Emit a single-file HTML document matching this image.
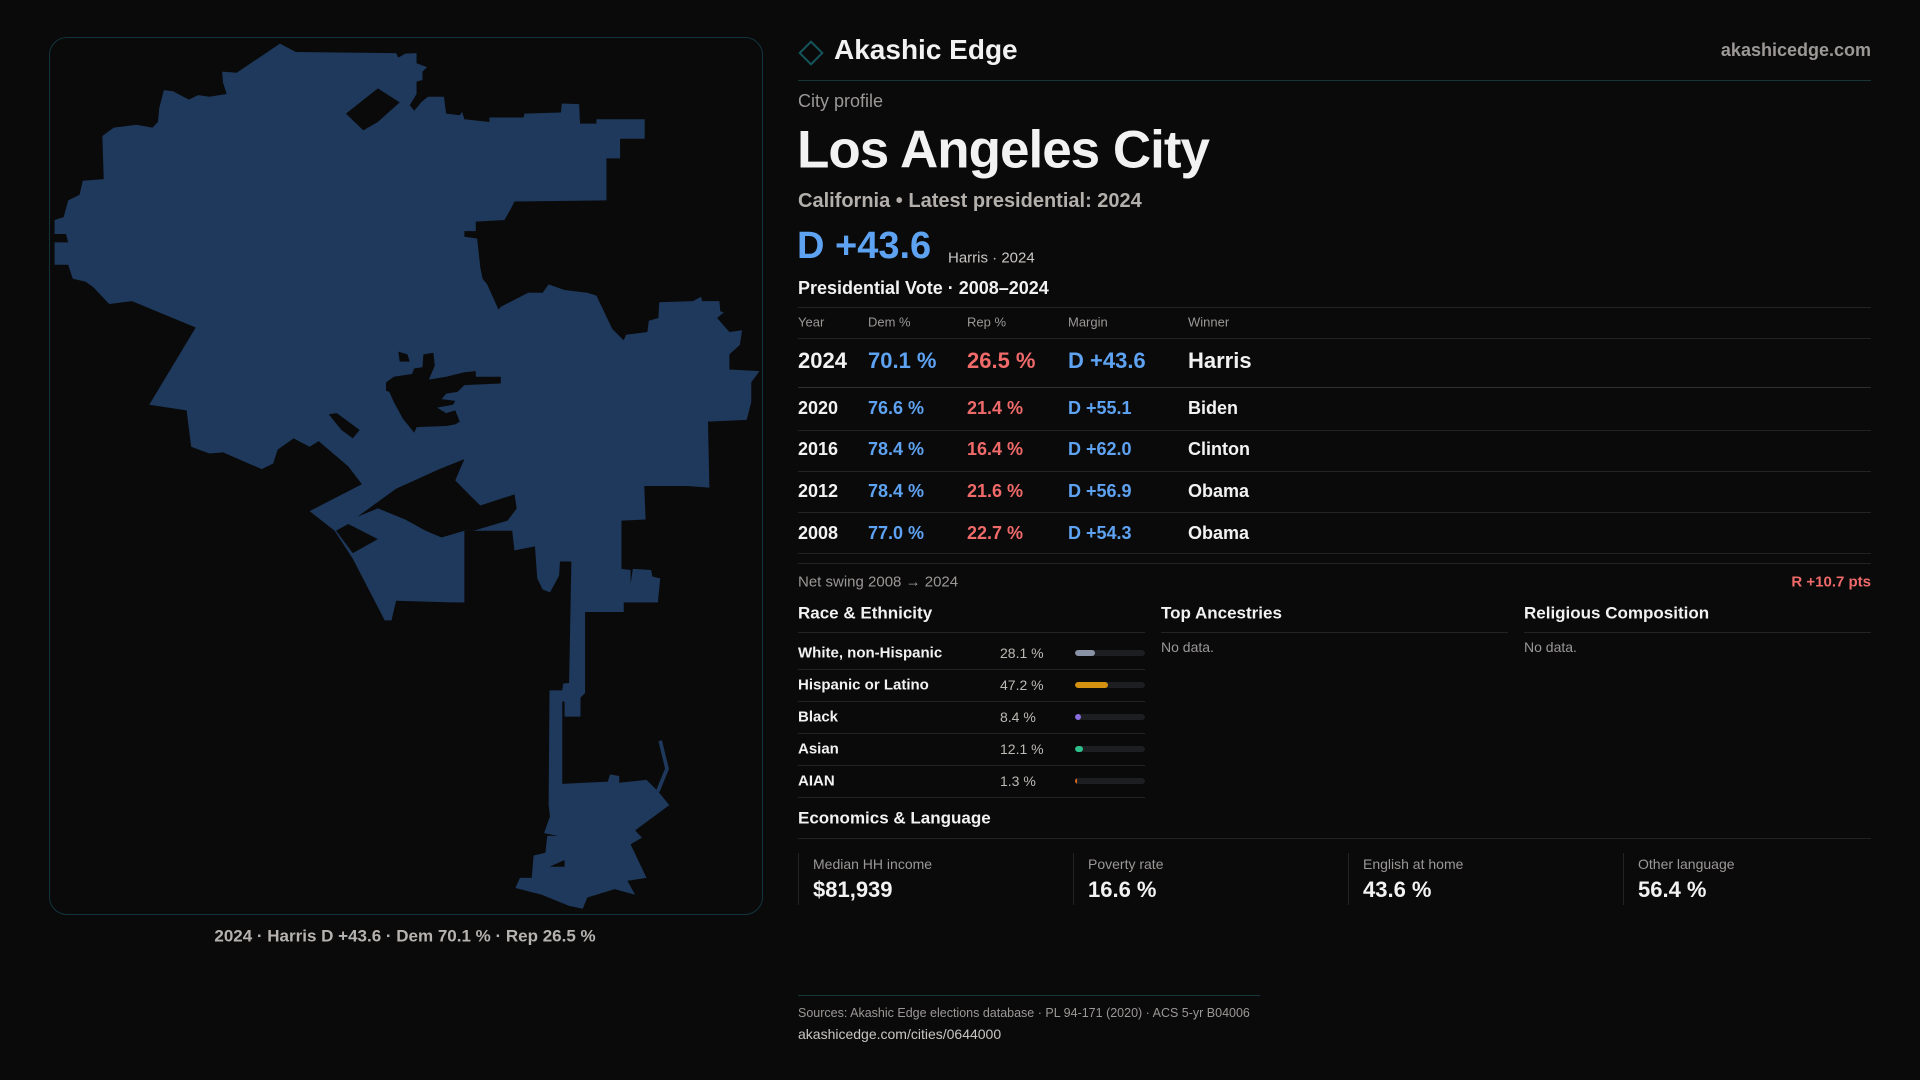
<!DOCTYPE html>
<html><head><meta charset="utf-8">
<style>
*{margin:0;padding:0;box-sizing:border-box}
body{width:1920px;height:1080px;background:#0a0a0b;font-family:"Liberation Sans",sans-serif;color:#f2f2f2;position:relative;overflow:hidden}
.a{position:absolute;white-space:nowrap}
.c{line-height:1;transform:translateY(-50%)}
.hl{position:absolute;height:1px;background:#222326}
.gray{color:#9b9896}
.blue{color:#5ea2f2}
.red{color:#f06a6a}
</style></head><body>
<div class="a" style="left:49px;top:37px;width:714px;height:878px;border:1px solid #12353b;border-radius:18px;overflow:hidden">
<svg width="714" height="878" viewBox="0 0 1568 1568" preserveAspectRatio="none">
<polygon fill="#1e395c" points="505,10 540,25 760,27 765,35 780,28 805,27 805,45 828,52 818,60 818,75 805,78 805,100 790,120 800,130 815,115 830,105 865,105 870,135 900,138 905,132 910,145 965,150 965,142 1040,142 1042,135 1122,133 1124,117 1162,118 1164,153 1200,153 1200,145 1306,145 1306,180 1252,180 1252,215 1222,215 1222,290 1020,292 1012,305 998,325 935,328 935,345 910,345 910,355 938,358 945,410 950,430 960,440 985,485 990,480 1050,455 1082,455 1095,440 1130,450 1180,455 1200,460 1235,520 1260,540 1265,530 1312,525 1315,505 1336,500 1338,472 1412,470 1430,462 1432,470 1470,470 1472,488 1480,490 1465,500 1492,525 1520,522 1515,548 1492,565 1492,592 1558,595 1540,615 1540,650 1530,682 1445,685 1448,803 1400,800 1305,800 1308,860 1255,862 1255,948 1275,950 1275,975 1280,948 1320,950 1323,962 1340,965 1335,1008 1260,1008 1260,1025 1175,1025 1175,1170 1165,1178 1165,1212 1130,1212 1130,1185 1125,1185 1125,1332 1225,1328 1230,1315 1250,1318 1250,1330 1310,1325 1335,1345 1360,1370 1285,1415 1300,1428 1275,1440 1310,1500 1268,1505 1285,1530 1240,1520 1180,1535 1170,1555 1140,1550 1080,1530 1022,1518 1032,1500 1058,1500 1062,1460 1088,1455 1092,1425 1115,1425 1085,1420 1098,1390 1095,1370 1097,1165 1125,1165 1127,1153 1140,1152 1145,935 1120,935 1118,960 1108,975 1098,990 1082,985 1070,965 1065,908 1020,915 1015,880 960,880 910,880 910,1008 880,1008 760,1005 750,1040 735,1040 665,930 625,880 570,845 685,797 655,765 590,720 570,730 535,715 500,735 490,760 465,770 380,740 350,742 310,730 300,665 218,655 320,517 180,470 130,475 95,445 78,435 50,430 40,405 10,405 10,365 40,365 35,350 10,350 10,325 30,320 40,290 65,280 72,255 118,252 115,175 140,160 190,155 225,160 237,150 240,125 250,93 270,95 305,110 325,102 350,105 388,100 380,80 378,60 410,62"/>
<g fill="#0a0a0b">
<polygon points="650,135 720,90 768,115 720,150 688,165"/>
<polygon points="738,615 755,605 795,600 800,590 818,588 820,565 842,562 845,585 832,610 870,605 910,597 935,595 935,605 990,605 990,617 910,620 895,632 870,635 860,645 890,648 885,655 850,660 870,670 890,665 900,685 890,690 870,693 805,695 800,705 775,680 755,650 745,632 738,630"/>
<polygon points="765,560 785,565 790,578 768,578"/>
<polygon points="612,672 630,670 680,700 665,715 640,700"/>
<polygon points="675,855 760,805 855,770 910,752 890,790 920,815 945,835 1020,815 1025,840 1005,862 930,880 910,880 860,892 825,880 780,860 720,840"/>
<polygon points="628,880 655,868 720,895 665,920"/>
<polygon points="1097,1480 1130,1468 1130,1480"/>
</g>
<polyline fill="none" stroke="#1e395c" stroke-width="8" points="1340,1255 1355,1305 1335,1345"/>
</svg>
</div>
<div class="a c gray" style="left:405px;top:936px;transform:translate(-50%,-50%);font-size:17px;color:#b5b2af;font-weight:bold">2024 · Harris D +43.6 · Dem 70.1 % · Rep 26.5 %</div>

<div class="a" style="left:802px;top:44px;width:18px;height:18px;border:2px solid #14545a;transform:rotate(45deg)"></div>
<div class="a c" style="left:834px;top:50px;font-size:28px;font-weight:bold">Akashic Edge</div>
<div class="a c gray" style="right:49px;top:50px;font-size:18px;font-weight:bold">akashicedge.com</div>
<div class="hl" style="left:798px;width:1073px;top:80px;background:#17363a"></div>

<div class="a c gray" style="left:798px;top:101px;font-size:18px">City profile</div>
<div class="a c" style="left:797px;top:150px;font-size:53px;font-weight:bold;letter-spacing:-1px">Los Angeles City</div>
<div class="a c" style="left:798px;top:201px;font-size:20px;font-weight:bold;color:#b3afab">California • Latest presidential: 2024</div>
<div class="a c blue" style="left:797px;top:246px;font-size:38px;font-weight:bold">D +43.6</div>
<div class="a c" style="left:948px;top:258px;font-size:15px;color:#c9c6c3">Harris · 2024</div>
<div class="a c" style="left:798px;top:288px;font-size:18px;font-weight:bold">Presidential Vote · 2008–2024</div>

<div id="vote-table"></div>

<div class="hl" style="left:798px;width:1073px;top:563px"></div>
<div class="a c gray" style="left:798px;top:582px;font-size:15px">Net swing 2008 → 2024</div>
<div class="a c red" style="right:49px;top:582px;font-size:15px;font-weight:bold">R +10.7 pts</div>

<div class="a c" style="left:798px;top:613px;font-size:17px;font-weight:bold">Race &amp; Ethnicity</div>
<div class="a c" style="left:1161px;top:613px;font-size:17px;font-weight:bold">Top Ancestries</div>
<div class="a c" style="left:1524px;top:613px;font-size:17px;font-weight:bold">Religious Composition</div>
<div class="hl" style="left:798px;width:347px;top:632px"></div>
<div class="hl" style="left:1161px;width:347px;top:632px"></div>
<div class="hl" style="left:1524px;width:347px;top:632px"></div>
<div class="a c gray" style="left:1161px;top:647px;font-size:14px">No data.</div>
<div class="a c gray" style="left:1524px;top:647px;font-size:14px">No data.</div>
<div id="race-list"></div>

<div class="a c" style="left:798px;top:818px;font-size:17px;font-weight:bold">Economics &amp; Language</div>
<div class="hl" style="left:798px;width:1073px;top:838px"></div>
<div id="econ-cards"></div>

<div class="hl" style="left:798px;width:462px;top:995px;background:#17363a"></div>
<div class="a c gray" style="left:798px;top:1013px;font-size:12.5px">Sources: Akashic Edge elections database · PL 94-171 (2020) · ACS 5-yr B04006</div>
<div class="a c" style="left:798px;top:1034px;font-size:14px;color:#c9c6c3">akashicedge.com/cities/0644000</div>

<script>
const years=["2024","2020","2016","2012","2008"];
const demPct=[70.1,76.6,78.4,78.4,77.0];
const repPct=[26.5,21.4,16.4,21.6,22.7];
const margins=[43.6,55.1,62.0,56.9,54.3];
const winners=["Harris","Biden","Clinton","Obama","Obama"];
const raceLabels=["White, non-Hispanic","Hispanic or Latino","Black","Asian","AIAN"];
const raceValues=[28.1,47.2,8.4,12.1,1.3];
const raceColors=["#8a93a6","#d4910f","#8a6ee0","#2fbf8a","#d4691f"];
const econLabels=["Median HH income","Poverty rate","English at home","Other language"];
const econValues=["$81,939","16.6 %","43.6 %","56.4 %"];

function mk(parent,cls,style,text){const d=document.createElement('div');d.className=cls;d.style.cssText=style;if(text!=null)d.textContent=text;parent.appendChild(d);return d;}

const vt=document.getElementById('vote-table');
const colX=[798,868,967,1068,1188];
const hdr=["Year","Dem %","Rep %","Margin","Winner"];
mk(vt,'hl','left:798px;width:1073px;top:307px');
hdr.forEach((h,i)=>{const e=mk(vt,'a c gray',`left:${colX[i]}px;top:322px;font-size:13px`,h);

});
mk(vt,'hl','left:798px;width:1073px;top:338px');
const rowY=[361,408,449,491,533];
const lineY=[387,430,471,512,553];
years.forEach((y,i)=>{
 const fs=i===0?22:18;
 const vals=[y,demPct[i].toFixed(1)+' %',repPct[i].toFixed(1)+' %','D +'+margins[i].toFixed(1),winners[i]];
 const cls=['','blue','red','blue',''];
 vals.forEach((v,j)=>{const e=mk(vt,'a c '+cls[j],`left:${colX[j]}px;top:${rowY[i]}px;font-size:${fs}px;font-weight:bold`,v);
 
 });
 mk(vt,'hl',`left:798px;width:1073px;top:${lineY[i]}px;${i===0?'background:#2e2f32':''}`);
});

const rl=document.getElementById('race-list');
raceLabels.forEach((l,i)=>{
 const y=653+i*32;
 const a=mk(rl,'a c',`left:798px;top:${y}px;font-size:15px;font-weight:bold`,l);
 
 
 const b=mk(rl,'a c',`left:1000px;top:${y}px;font-size:14px;color:#bdbab6`,raceValues[i].toFixed(1)+' %');
 
 
 const t=mk(rl,'a',`left:1075px;top:${y-3}px;width:70px;height:6px;background:#1d1e21;border-radius:3px;overflow:hidden`);
 
 
 const f=mk(t,'a',`left:0;top:0;height:6px;width:${Math.max(raceValues[i]/100*70,1.5)}px;background:${raceColors[i]};border-radius:3px`);
 
 
 mk(rl,'hl',`left:798px;width:347px;top:${y+16}px`);
});

const ec=document.getElementById('econ-cards');
econLabels.forEach((l,i)=>{
 const x=798+i*275;
 const c=mk(ec,'a',`left:${x}px;top:853px;width:1px;height:52px;background:#222326`);
 const a=mk(ec,'a c gray',`left:${x+15}px;top:864px;font-size:14px`,l);
 
 
 const b=mk(ec,'a c',`left:${x+15}px;top:890px;font-size:22px;font-weight:bold`,econValues[i]);
 
 
});
</script>
</body></html>
